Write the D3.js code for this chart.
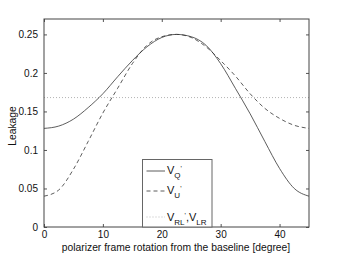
<!DOCTYPE html>
<html>
<head>
<meta charset="utf-8">
<script src="https://cdn.jsdelivr.net/npm/d3@7"></script>
<style>
  body { margin: 0; background: #fff; }
  svg text { font-family: "Liberation Sans", Arial, sans-serif; fill: #111; }
</style>
</head>
<body>
<div id="chart"></div>
<script>
"use strict"

/* values, every 2.5 degrees */
let angles = [0, 2.5, 5, 7.5, 10, 12.5, 15, 17.5, 20, 22.5, 25, 27.5, 30, 32.5, 35, 37.5, 40, 42.5, 45];
let leakQ = [0.128, 0.131, 0.140, 0.155, 0.173, 0.195, 0.216, 0.234, 0.246, 0.250, 0.247, 0.236, 0.212, 0.180, 0.147, 0.111, 0.076, 0.050, 0.040];
let leakU = [0.040, 0.048, 0.075, 0.111, 0.148, 0.180, 0.212, 0.236, 0.247, 0.250, 0.246, 0.234, 0.216, 0.196, 0.173, 0.154, 0.141, 0.132, 0.128];
let leakRL = 0.168;
let xTicks = [0, 10, 20, 30, 40];
let yTicks = [0, 0.05, 0.1, 0.15, 0.2, 0.25];
let yTickLabels = ["0", "0.05", "0.1", "0.15", "0.2", "0.25"];

let drawing = d3.select("#chart")
    .append("svg")
    .attr("width", 341)
    .attr("height", 256);

let x = d3.scaleLinear().domain([0, 45]).range([44, 309]);
let y = d3.scaleLinear().domain([0, 0.27]).range([227, 19]);

/* axes: ticks point inward, repeated on top and right */
let bottomAxis = drawing.append("g")
    .attr("transform", "translate(0," + y(0) + ")")
    .call(d3.axisBottom(x).tickValues(xTicks).tickSizeInner(-3).tickSizeOuter(0).tickPadding(4));
let topAxis = drawing.append("g")
    .attr("transform", "translate(0," + y(0.27) + ")")
    .call(d3.axisTop(x).tickValues(xTicks).tickSizeInner(-3).tickSizeOuter(0).tickFormat(""));
let leftAxis = drawing.append("g")
    .attr("transform", "translate(" + x(0) + ",0)")
    .call(d3.axisLeft(y).tickValues(yTicks).tickSizeInner(-3).tickSizeOuter(0).tickPadding(6)
        .tickFormat((d, i) => yTickLabels[i]));
let rightAxis = drawing.append("g")
    .attr("transform", "translate(" + x(45) + ",0)")
    .call(d3.axisRight(y).tickValues(yTicks).tickSizeInner(-3).tickSizeOuter(0).tickFormat(""));

drawing.selectAll(".domain").remove();
drawing.selectAll(".tick line").attr("stroke", "#555");
drawing.selectAll(".tick text")
    .attr("font-size", 10)
    .attr("font-family", "Liberation Sans, Arial, sans-serif")
    .attr("fill", "#111");

/* RL/LR level */
let rlLine = drawing.append("line")
    .attr("x1", x(0)).attr("x2", x(45))
    .attr("y1", y(leakRL)).attr("y2", y(leakRL))
    .attr("stroke", "#aaa")
    .attr("stroke-width", 0.9)
    .attr("stroke-dasharray", "1,2");

let line = d3.line()
    .x((d, i) => x(angles[i]))
    .y(d => y(d))
    .curve(d3.curveMonotoneX);

let pathU = drawing.append("path")
    .attr("d", line(leakU))
    .attr("fill", "none")
    .attr("stroke", "#333")
    .attr("stroke-width", 0.8)
    .attr("stroke-dasharray", "4,3");

let pathQ = drawing.append("path")
    .attr("d", line(leakQ))
    .attr("fill", "none")
    .attr("stroke", "#333")
    .attr("stroke-width", 0.8);

/* plot frame */
let frame = drawing.append("rect")
    .attr("x", x(0)).attr("y", y(0.27))
    .attr("width", x(45) - x(0)).attr("height", y(0) - y(0.27))
    .attr("fill", "none")
    .attr("stroke", "#444")
    .attr("stroke-width", 1);

/* legend */
let legend = drawing.append("g");
legend.append("rect")
    .attr("x", 142.5).attr("y", 159.5)
    .attr("width", 69.5).attr("height", 67.5)
    .attr("fill", "#fff")
    .attr("stroke", "#666")
    .attr("stroke-width", 1);

let rows = [
    { y: 171, dash: null, color: "#333" },
    { y: 191, dash: "4,3", color: "#333" },
    { y: 217, dash: "1,2", color: "#aaa" }
];
rows.forEach(r => {
    legend.append("line")
        .attr("x1", 146.5).attr("x2", 165)
        .attr("y1", r.y).attr("y2", r.y)
        .attr("stroke", r.color)
        .attr("stroke-width", 0.8)
        .attr("stroke-dasharray", r.dash);
});

function addLabel(base, parts) {
    let t = legend.append("text")
        .attr("x", 167)
        .attr("y", base)
        .attr("font-size", 11);
    parts.forEach(p => {
        let s = t.append("tspan").text(p.text);
        if (p.sub) s.attr("font-size", 8).attr("dy", 4);
        if (p.sup) s.attr("font-size", 7).attr("dy", -7);
        if (p.back) s.attr("dy", p.back);
    });
}
addLabel(174, [{ text: "V" }, { text: "Q", sub: true }, { text: "'", sup: true }]);
addLabel(194, [{ text: "V" }, { text: "U", sub: true }, { text: "'", sup: true }]);
addLabel(221, [{ text: "V" }, { text: "RL", sub: true }, { text: "'", sup: true },
    { text: ",", back: 3 }, { text: "V" }, { text: "LR", sub: true }]);

/* axis titles */
drawing.append("text")
    .attr("x", 176).attr("y", 251)
    .attr("text-anchor", "middle")
    .attr("font-size", 10.3)
    .text("polarizer frame rotation from the baseline [degree]");

drawing.append("text")
    .attr("transform", "translate(16,126) rotate(-90)")
    .attr("text-anchor", "middle")
    .attr("font-size", 10.3)
    .text("Leakage");
</script>
</body>
</html>
